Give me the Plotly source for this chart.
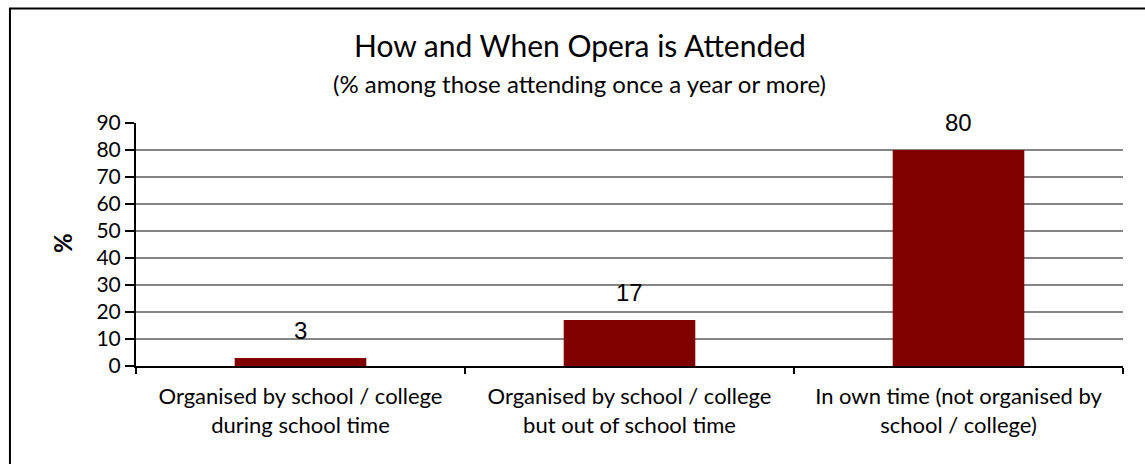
import plotly.graph_objects as go

categories = [
    "Organised by school / college<br>during school time",
    "Organised by school / college<br>but out of school time",
    "In own time (not organised by<br>school / college)",
]
values = [3, 17, 80]
y_ticks = [0, 10, 20, 30, 40, 50, 60, 70, 80, 90]

BAR_COLOR = "#800000"
TEXT_FONT = "Lato, 'Open Sans', sans-serif"

fig = go.Figure()
fig.add_trace(go.Bar(
    x=categories,
    y=values,
    marker=dict(color=BAR_COLOR, line=dict(width=0)),
    width=0.4,
    hoverinfo="skip",
))

# value labels above each bar
for cat, val in zip(categories, values):
    fig.add_annotation(
        x=cat, y=val, xref="x", yref="y",
        text=str(val), showarrow=False,
        yanchor="bottom", yshift=12,
        font=dict(family="'Liberation Sans', Arial, sans-serif", size=24, color="#000000"),
    )

# title and subtitle
fig.add_annotation(
    x=0.4498, y=1.321, xref="paper", yref="paper",
    text="How and When Opera is Attended", showarrow=False,
    xanchor="center", yanchor="middle",
    font=dict(family=TEXT_FONT, size=30, color="#000000"),
)
fig.add_annotation(
    x=0.4498, y=1.1646, xref="paper", yref="paper",
    text="(% among those attending once a year or more)", showarrow=False,
    xanchor="center", yanchor="middle",
    font=dict(family=TEXT_FONT, size=24, color="#000000"),
)

# y axis title
fig.add_annotation(
    x=-0.075, y=0.506, xref="paper", yref="paper",
    text="<b>%</b>", showarrow=False, textangle=-90,
    xanchor="center", yanchor="middle",
    font=dict(family=TEXT_FONT, size=24, color="#000000"),
)

# outer frame around the chart
fig.add_shape(
    type="rect", xref="paper", yref="paper",
    x0=-0.1277, x1=1.04, y0=-0.45, y1=1.471,
    line=dict(color="#000000", width=2), fillcolor="rgba(0,0,0,0)",
    layer="below",
)

fig.update_layout(
    width=1145, height=464,
    margin=dict(l=136, r=22, t=123, b=98),
    paper_bgcolor="#ffffff", plot_bgcolor="#ffffff",
    showlegend=False,
    bargap=0.6,
    font=dict(family=TEXT_FONT, color="#000000"),
)
fig.update_xaxes(
    type="category",
    showline=True, linecolor="#000000", linewidth=2,
    ticks="outside", tickson="boundaries", ticklen=6, tickwidth=2, tickcolor="#000000",
    tickfont=dict(family=TEXT_FONT, size=22, color="#000000"),
    ticklabelstandoff=10,
    showgrid=False, zeroline=False,
)
fig.update_yaxes(
    range=[0, 90], tickvals=y_ticks,
    showline=True, linecolor="#000000", linewidth=2,
    ticks="outside", ticklen=9, tickwidth=2, tickcolor="#000000",
    tickfont=dict(family=TEXT_FONT, size=21, color="#000000"),
    showgrid=True, gridcolor="#858585", gridwidth=1.5,
    zeroline=False,
)

fig.write_html("out.html")
